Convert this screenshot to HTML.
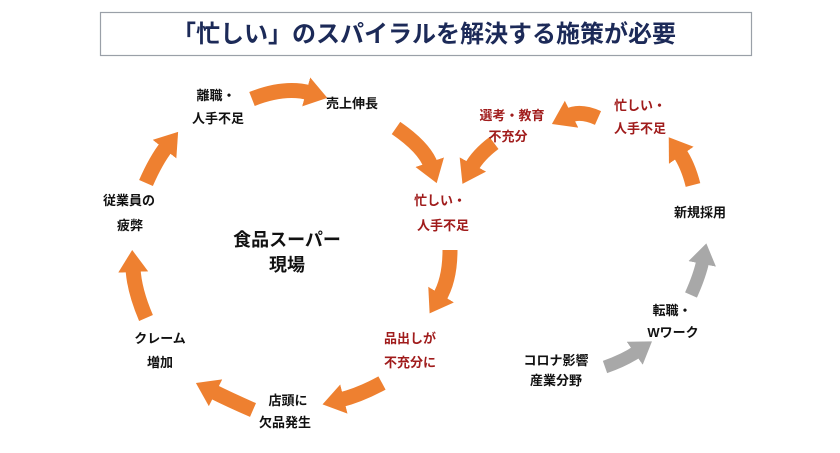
<!DOCTYPE html>
<html><head><meta charset="utf-8"><style>
body{margin:0;width:840px;height:448px;background:#fff;overflow:hidden;font-family:"Liberation Sans","Noto Sans CJK JP",sans-serif}
svg text{font-family:"Liberation Sans","Noto Sans CJK JP",sans-serif;font-weight:bold}
</style></head><body>
<svg width="840" height="448" viewBox="0 0 840 448">
<defs>
<marker id="ho" markerUnits="userSpaceOnUse" markerWidth="34" markerHeight="34" refX="4" refY="15" orient="auto"><path d="M0,0 L22,15 L0,30 Z" fill="#ee8030"/></marker>
<marker id="hg" markerUnits="userSpaceOnUse" markerWidth="34" markerHeight="34" refX="4" refY="14" orient="auto"><path d="M0,0 L21,14 L0,28 Z" fill="#a8a8a8"/></marker>
</defs>
<rect x="100.5" y="12.5" width="651" height="43" fill="#fff" stroke="#9aa0a8" stroke-width="1.2"/>
<text x="424" y="42" font-size="24" fill="#1c2a58" text-anchor="middle" font-weight="bold">「忙しい」のスパイラルを解決する施策が必要</text>
<g fill="none" stroke="#ee8030" stroke-width="15">
<path d="M252,99 Q285,86 310,93" marker-end="url(#ho)"/>
<path d="M396,128 Q425,148 431,166" marker-end="url(#ho)"/>
<path d="M494,143 Q478,155 471,168" marker-end="url(#ho)"/>
<path d="M450,250 Q450,280 439,298" marker-end="url(#ho)"/>
<path d="M382,383 Q360,395 340,400" marker-end="url(#ho)"/>
<path d="M253,410 Q230,400 212,391" marker-end="url(#ho)"/>
<path d="M146,318 Q134,290 133,268" marker-end="url(#ho)"/>
<path d="M146,183 Q156,160 167,146" marker-end="url(#ho)"/>
<path d="M598,118 Q580,110 568,116" marker-end="url(#ho)"/>
<path d="M693,185 Q688,165 679,152" marker-end="url(#ho)"/>
</g>
<g fill="none" stroke="#a8a8a8" stroke-width="13">
<path d="M605,367 Q625,360 638,351" marker-end="url(#hg)"/>
<path d="M691,295 Q700,275 703,260" marker-end="url(#hg)"/>
</g>
<g font-size="13" fill="#111" text-anchor="middle">
<text x="216" y="100">離職・</text><text x="218" y="123">人手不足</text>
<text x="352" y="108">売上伸長</text>
<text x="129" y="205">従業員の</text><text x="130" y="230">疲弊</text>
<text x="160" y="343">クレーム</text><text x="160" y="367">増加</text>
<text x="288" y="405">店頭に</text><text x="285" y="427">欠品発生</text>
<text x="700" y="217">新規採用</text>
<text x="672" y="315">転職・</text><text x="673" y="337">Wワーク</text>
<text x="556" y="365">コロナ影響</text><text x="556" y="385">産業分野</text>
</g>
<g font-size="13" fill="#a01c1c" text-anchor="middle">
<text x="440" y="205">忙しい・</text><text x="443" y="230">人手不足</text>
<text x="410" y="343">品出しが</text><text x="410" y="367">不充分に</text>
<text x="512" y="120">選考・教育</text><text x="508" y="141">不充分</text>
<text x="640" y="110">忙しい・</text><text x="640" y="133">人手不足</text>
</g>
<text x="287" y="246" font-size="18" fill="#111" text-anchor="middle">食品スーパー</text>
<text x="287" y="271" font-size="18" fill="#111" text-anchor="middle">現場</text>
</svg>
</body></html>
